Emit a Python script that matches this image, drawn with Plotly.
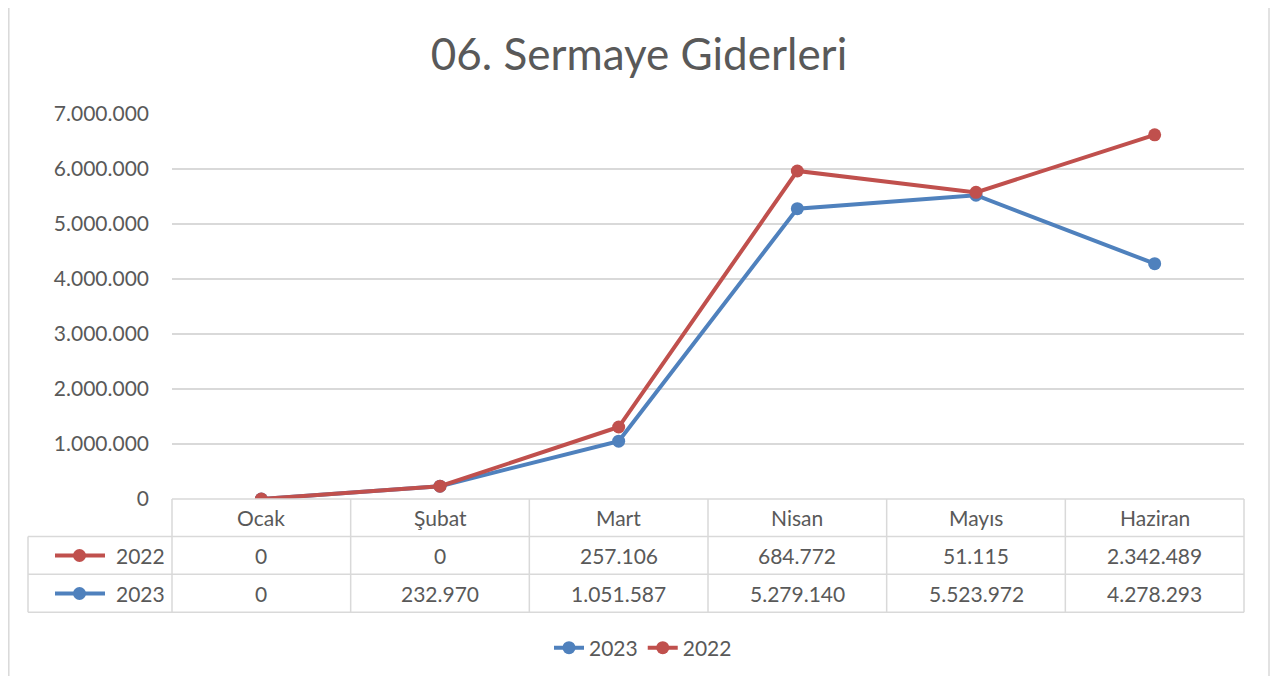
import plotly.graph_objects as go

months = ["Ocak", "Şubat", "Mart", "Nisan", "Mayıs", "Haziran"]
values_2022 = [0, 0, 257106, 684772, 51115, 2342489]
values_2023 = [0, 232970, 1051587, 5279140, 5523972, 4278293]
y_ticks = [0, 1000000, 2000000, 3000000, 4000000, 5000000, 6000000, 7000000]

BLUE = "#4F81BD"
RED = "#C0504D"
GREY = "#595959"
LINE = "#D9D9D9"
FONT = "Lato, Open Sans, sans-serif"

# the page body adds an 8px margin, so work in screen pixels and shift
OFF = 8
W, H = 1278 - 2 * OFF, 684 - 2 * OFF
PL, PR, PT, PB = 172, 1244, 114, 499  # plot area in screen pixels


def px_x(x):
    return (x - PL) / (PR - PL)


def px_y(y):
    return (PB - y) / (PB - PT)


def fmt(v):
    return f"{v:,}".replace(",", ".")


idx = list(range(len(months)))

fig = go.Figure()
# stacked line chart: 2022 is drawn on top of 2023
fig.add_trace(go.Scatter(
    x=idx, y=values_2023, name="2023", stackgroup="s", fill="none",
    mode="lines+markers", line=dict(color=BLUE, width=4),
    marker=dict(size=13, color=BLUE),
))
fig.add_trace(go.Scatter(
    x=idx, y=values_2022, name="2022", stackgroup="s", fill="none",
    mode="lines+markers", line=dict(color=RED, width=4),
    marker=dict(size=13, color=RED),
))

shapes = []
annotations = []

# data table under the plot
band = (PR - PL) / len(months)
row_y = [499, 536.5, 574.3, 612.3]
line_style = dict(color=LINE, width=1.5)
shapes.append(dict(type="line", xref="paper", yref="paper",
                   x0=px_x(PL), x1=px_x(PR), y0=px_y(row_y[0]), y1=px_y(row_y[0]), line=line_style))
for ry in row_y[1:]:
    shapes.append(dict(type="line", xref="paper", yref="paper",
                       x0=px_x(28), x1=px_x(PR), y0=px_y(ry), y1=px_y(ry), line=line_style))
shapes.append(dict(type="line", xref="paper", yref="paper",
                   x0=px_x(28), x1=px_x(28), y0=px_y(row_y[1]), y1=px_y(row_y[3]), line=line_style))
for k in range(len(months) + 1):
    vx = PL + band * k
    shapes.append(dict(type="line", xref="paper", yref="paper",
                       x0=px_x(vx), x1=px_x(vx), y0=px_y(row_y[0]), y1=px_y(row_y[3]), line=line_style))

# chart outer border (left / right)
for bx in (OFF + 0.8, OFF + W - 1):
    shapes.append(dict(type="line", xref="paper", yref="paper",
                       x0=px_x(bx), x1=px_x(bx), y0=px_y(OFF), y1=px_y(OFF + H), line=dict(color=LINE, width=1.5)))

table_font = dict(family=FONT, size=21, color=GREY)
for i, m in enumerate(months):
    for text, cy in ((m, 518), (fmt(values_2022[i]), 555.5), (fmt(values_2023[i]), 593.5)):
        annotations.append(dict(x=i, xref="x", y=px_y(cy), yref="paper", text=text,
                                xanchor="center", yanchor="middle", showarrow=False, font=table_font))

# legend keys inside the table
for name, color, cy in (("2022", RED, 555.5), ("2023", BLUE, 593.5)):
    shapes.append(dict(type="line", xref="paper", yref="paper",
                       x0=px_x(55), x1=px_x(105), y0=px_y(cy), y1=px_y(cy),
                       line=dict(color=color, width=4)))
    shapes.append(dict(type="circle", xref="paper", yref="paper",
                       x0=px_x(73), x1=px_x(86), y0=px_y(cy - 6.5), y1=px_y(cy + 6.5),
                       fillcolor=color, line=dict(color=color, width=0)))
    annotations.append(dict(x=px_x(167), xref="paper", y=px_y(cy), yref="paper", text=name,
                            xanchor="right", yanchor="middle", showarrow=False, font=table_font))

fig.update_layout(
    width=W, height=H,
    margin=dict(l=PL - OFF, r=W + OFF - PR, t=PT - OFF, b=H + OFF - PB, autoexpand=False),
    paper_bgcolor="white", plot_bgcolor="white",
    separators=",.",
    font=dict(family=FONT, color=GREY),
    title=dict(text="06. Sermaye Giderleri", x=0.5, xref="container", xanchor="center",
               y=1 - (55 - OFF) / H, yanchor="middle",
               font=dict(family=FONT, size=44, color=GREY)),
    xaxis=dict(range=[-0.5, 5.5], showticklabels=False, showgrid=False,
               zeroline=False, showline=False, ticks="", automargin=False),
    yaxis=dict(range=[0, 7000000], tickvals=y_ticks, tickformat=",d",
               showgrid=True, gridcolor=LINE, gridwidth=1.5, zeroline=False,
               showline=False, ticks="", ticklabelstandoff=22, automargin=False,
               tickfont=dict(family=FONT, size=21, color=GREY)),
    legend=dict(orientation="h", x=px_x(643), xanchor="center", y=px_y(648), yanchor="middle",
                font=dict(family=FONT, size=21, color=GREY), traceorder="normal"),
    shapes=shapes,
    annotations=annotations,
)

fig.write_html("out.html")
